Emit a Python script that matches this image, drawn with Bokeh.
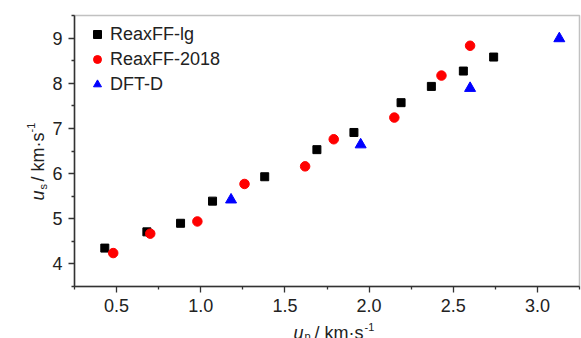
import math
from bokeh.plotting import figure
from bokeh.models import (FixedTicker, PrintfTickFormatter, Legend, LegendItem,
                          LinearAxis, BoxAnnotation, Label)
from bokeh.embed import file_html
from bokeh.resources import INLINE

# ---- data ----
lg_up = [0.43, 0.68, 0.88, 1.07, 1.38, 1.69, 1.91, 2.19, 2.37, 2.56, 2.74]
lg_us = [4.35, 4.71, 4.90, 5.39, 5.93, 6.53, 6.91, 7.57, 7.93, 8.27, 8.58]

r18_up = [0.48, 0.70, 0.98, 1.26, 1.62, 1.79, 2.15, 2.43, 2.60]
r18_us = [4.24, 4.67, 4.94, 5.77, 6.16, 6.76, 7.24, 8.17, 8.83]

dft_up = [1.18, 1.95, 2.60, 3.13]
dft_us = [5.42, 6.64, 7.89, 8.99]

series_names = ["ReaxFF-lg", "ReaxFF-2018", "DFT-D"]
x_ticks = [0.5, 1.0, 1.5, 2.0, 2.5, 3.0]
y_ticks = [4, 5, 6, 7, 8, 9]

FONT = "Liberation Sans"
TXT = "#222222"
LINE = "#333333"

W, H = 581, 338
XMIN, XMAX = 0.25, 3.25
YMIN, YMAX = 3.5, 9.5
# plot box inside the page (pixels)
BOX_L, BOX_R, BOX_T, BOX_B = 74, 579, 15, 286
KX = (BOX_R - BOX_L) / (XMAX - XMIN)
KY = (BOX_B - BOX_T) / (YMAX - YMIN)

p = figure(width=W, height=H,
           x_range=(XMIN - BOX_L / KX, XMAX + (W - BOX_R) / KX),
           y_range=(YMIN - (H - BOX_B) / KY, YMAX + BOX_T / KY),
           output_backend="svg", toolbar_location=None, min_border=0,
           x_axis_location=None, y_axis_location=None)
p.xgrid.visible = False
p.ygrid.visible = False
p.outline_line_color = None

r1 = p.scatter(lg_up, lg_us, marker="square", size=8, color="black")
r2 = p.scatter(r18_up, r18_us, marker="circle", size=9.5, color="red")
r3 = p.scatter(dft_up, dft_us, marker="triangle", size=11, color="blue")

xaxis = LinearAxis(fixed_location=YMIN, bounds=(XMIN, XMAX),
                   ticker=FixedTicker(ticks=x_ticks,
                                      minor_ticks=[XMIN + 0.5 * i for i in range(7)]),
                   formatter=PrintfTickFormatter(format="%.1f"))
yaxis = LinearAxis(fixed_location=XMIN, bounds=(YMIN, YMAX),
                   ticker=FixedTicker(ticks=y_ticks,
                                      minor_ticks=[YMIN + i for i in range(7)]),
                   formatter=PrintfTickFormatter(format="%d"))
for ax in (xaxis, yaxis):
    ax.axis_line_color = LINE
    ax.axis_line_width = 1.5
    ax.major_tick_line_color = LINE
    ax.minor_tick_line_color = LINE
    ax.major_tick_line_width = 1.3
    ax.minor_tick_line_width = 1.3
    ax.major_tick_out = 6
    ax.major_tick_in = 0
    ax.minor_tick_out = 3
    ax.minor_tick_in = 0
    ax.major_label_text_font = FONT
    ax.major_label_text_font_size = "18px"
    ax.major_label_text_color = TXT
    ax.major_label_standoff = 6
p.add_layout(xaxis, "below")
p.add_layout(yaxis, "left")

# closed frame round the plot area
p.add_layout(BoxAnnotation(left=XMIN, right=XMAX, bottom=YMIN, top=YMAX,
                           fill_alpha=0, line_color=LINE, line_width=1.5))

legend = Legend(items=[LegendItem(label=series_names[0], renderers=[r1]),
                       LegendItem(label=series_names[1], renderers=[r2]),
                       LegendItem(label=series_names[2], renderers=[r3])],
                location=(87, H - 95), orientation="vertical",
                border_line_color=None, background_fill_alpha=0,
                padding=0, margin=0, spacing=3,
                glyph_width=20, glyph_height=22, label_height=22,
                label_standoff=3,
                label_text_font=FONT, label_text_font_size="18px",
                label_text_color=TXT)
p.add_layout(legend, "center")


def dx(px):
    return XMIN + (px - BOX_L) / KX


def dy(py):
    return YMIN + (BOX_B - py) / KY


def piece(text, px, py, size, italic=False, angle=0.0):
    p.add_layout(Label(x=dx(px), y=dy(py), text=text, angle=angle,
                       text_font=FONT, text_font_size=size,
                       text_font_style="italic" if italic else "normal",
                       text_color=TXT, text_align="left",
                       text_baseline="alphabetic"))


# x title: u_p / km·s^-1
piece("u", 293, 332, "18px", italic=True)
piece("p", 304, 335, "11px")
piece("/ km·s", 314, 332, "18px")
piece("-1", 364, 326, "11px")

# y title: u_s / km·s^-1 (reads upwards)
A = math.pi / 2
piece("u", 37, 200, "18px", italic=True, angle=A)
piece("s", 42, 189, "11px", angle=A)
piece("/ km·s", 37, 181, "18px", angle=A)
piece("-1", 30, 132, "11px", angle=A)

open("out.html", "w").write(file_html(p, INLINE))
